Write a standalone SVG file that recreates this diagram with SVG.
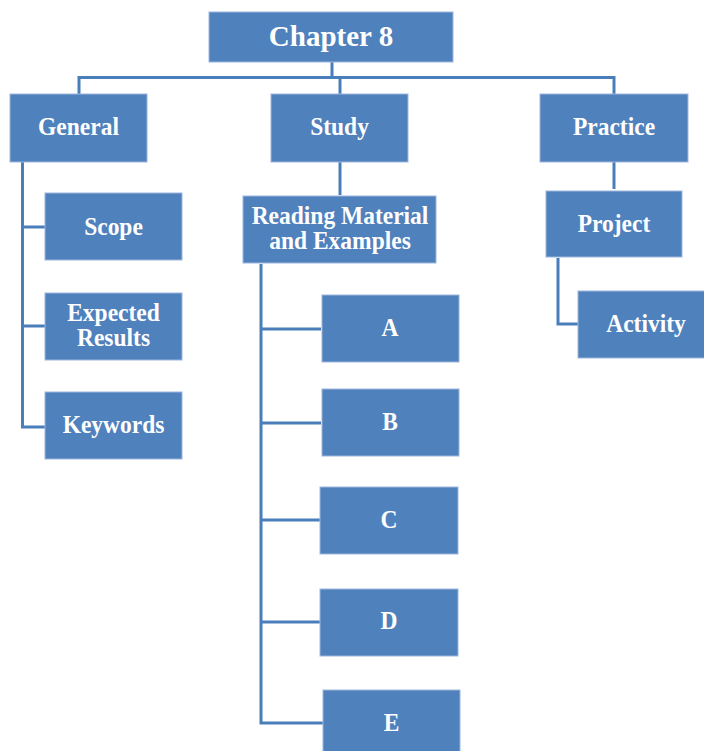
<svg xmlns="http://www.w3.org/2000/svg" width="704" height="751" viewBox="0 0 704 751">
  <style>
    .box { fill: #4F81BD; stroke: #9DB6DB; stroke-width: 1; }
    .lbl { font-weight: bold; font-size: 23.5px; fill: #FFFFFF; text-anchor: middle; }
    .title { font-size: 29px; }
    .link { fill: none; stroke: #4A7EBB; stroke-width: 3; stroke-linejoin: miter; stroke-linecap: butt; }
  </style>
  <rect width="704" height="751" fill="#FFFFFF"/>

  <!-- connectors -->
  <g id="connectors">
    <path class="link" d="M332 62 V77.5 M79 95 V77.5 H614 V95 M340 77.5 V95"/>
    <path class="link" d="M22.5 162 V427 H45 M22.5 227 H45 M22.5 326 H45"/>
    <path class="link" d="M340 162 V195"/>
    <path class="link" d="M261 264 V723 H323 M261 329 H321 M261 423 H321 M261 520 H320 M261 622 H320"/>
    <path class="link" d="M614 162 V189"/>
    <path class="link" d="M558 258 V324 H578"/>
  </g>

  <g id="chapter8">
    <rect class="box" x="209" y="12" width="244" height="50"/>
    <text class="lbl title" font-family="'Liberation Serif', serif" x="331" y="46">Chapter 8</text>
  </g>

  <g id="general">
    <rect class="box" x="10" y="94" width="137" height="68"/>
    <text class="lbl" font-family="'Liberation Serif', serif" transform="translate(78.5 135) scale(1 1.08)">General</text>
  </g>
  <g id="study">
    <rect class="box" x="271" y="94" width="137" height="68"/>
    <text class="lbl" font-family="'Liberation Serif', serif" transform="translate(339.5 135) scale(1 1.08)">Study</text>
  </g>
  <g id="practice">
    <rect class="box" x="540" y="94" width="148" height="68"/>
    <text class="lbl" font-family="'Liberation Serif', serif" transform="translate(614 135) scale(1 1.08)">Practice</text>
  </g>

  <g id="scope">
    <rect class="box" x="45" y="193" width="137" height="67"/>
    <text class="lbl" font-family="'Liberation Serif', serif" transform="translate(113.5 235) scale(1 1.08)">Scope</text>
  </g>
  <g id="expected-results">
    <rect class="box" x="45" y="293" width="137" height="67"/>
    <text class="lbl" font-family="'Liberation Serif', serif" transform="translate(113.5 321) scale(1 1.08)"><tspan x="0" y="0">Expected</tspan><tspan x="0" y="23.5">Results</tspan></text>
  </g>
  <g id="keywords">
    <rect class="box" x="45" y="392" width="137" height="67"/>
    <text class="lbl" font-family="'Liberation Serif', serif" transform="translate(113.5 433) scale(1 1.08)">Keywords</text>
  </g>

  <g id="reading-material">
    <rect class="box" x="243" y="196" width="193" height="67"/>
    <text class="lbl" font-family="'Liberation Serif', serif" transform="translate(340 224) scale(1 1.08)"><tspan x="0" y="0">Reading Material</tspan><tspan x="0" y="23.5">and Examples</tspan></text>
  </g>

  <g id="item-a">
    <rect class="box" x="322" y="295" width="137" height="67"/>
    <text class="lbl" font-family="'Liberation Serif', serif" transform="translate(390 335.5) scale(1 1.08)">A</text>
  </g>
  <g id="item-b">
    <rect class="box" x="322" y="389" width="137" height="67"/>
    <text class="lbl" font-family="'Liberation Serif', serif" transform="translate(390 430) scale(1 1.08)">B</text>
  </g>
  <g id="item-c">
    <rect class="box" x="320" y="487" width="138" height="67"/>
    <text class="lbl" font-family="'Liberation Serif', serif" transform="translate(389 527.5) scale(1 1.08)">C</text>
  </g>
  <g id="item-d">
    <rect class="box" x="320" y="589" width="138" height="67"/>
    <text class="lbl" font-family="'Liberation Serif', serif" transform="translate(389 629) scale(1 1.08)">D</text>
  </g>
  <g id="item-e">
    <rect class="box" x="323" y="690" width="137" height="67"/>
    <text class="lbl" font-family="'Liberation Serif', serif" transform="translate(391.5 730.5) scale(1 1.08)">E</text>
  </g>

  <g id="project">
    <rect class="box" x="546" y="191" width="136" height="66"/>
    <text class="lbl" font-family="'Liberation Serif', serif" transform="translate(614 231.5) scale(1 1.08)">Project</text>
  </g>
  <g id="activity">
    <rect class="box" x="578" y="291" width="137" height="67"/>
    <text class="lbl" font-family="'Liberation Serif', serif" transform="translate(646 331.5) scale(1 1.08)">Activity</text>
  </g>
</svg>
